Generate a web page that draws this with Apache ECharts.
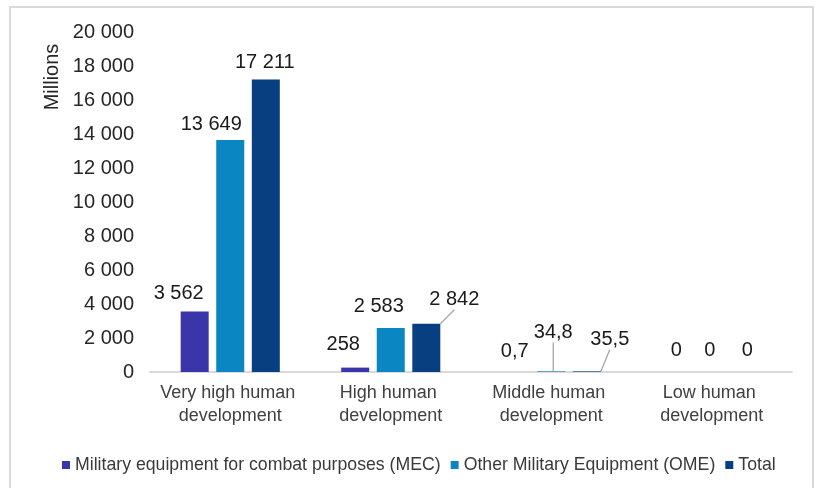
<!DOCTYPE html>
<html>
<head>
<meta charset="utf-8">
<script src="https://cdn.jsdelivr.net/npm/echarts@6/dist/echarts.min.js"></script>
<style>
html,body{margin:0;padding:0;background:#fff;}
#chart{width:817px;height:488px;}
</style>
</head>
<body>
<div id="chart"></div>
<script>
// ---- data ----
const categories = ["Very high human development", "High human development", "Middle human development", "Low human development"];
const seriesNames = ["Military equipment for combat purposes (MEC)", "Other Military Equipment (OME)", "Total"];
const mecValues = [3562, 258, 0.7, 0];
const omeValues = [13649, 2583, 34.8, 0];
const totalValues = [17211, 2842, 35.5, 0];
const yTicks = [0, 2000, 4000, 6000, 8000, 10000, 12000, 14000, 16000, 18000, 20000];

// ---- layout / style (not data) ----
const colors = ["#3A35A8", "#0A86C2", "#073F80"];
const labelShift = [
  [[-16, -3], [-12, -8], [-1, -6], [0, -7]],
  [[-19, 0], [-12, -7], [2, -24], [-2, -7]],
  [[-1, -2], [28, -9], [23, -17], [0, -7]]
];
const guideLines = [[false, false, false, false], [false, false, true, false], [false, true, true, false]];

function fmt(v) {
  if (Number.isInteger(v)) {
    return String(v).replace(/\B(?=(\d{3})+(?!\d))/g, ' ');
  }
  return String(v).replace('.', ',');
}

const allValues = [mecValues, omeValues, totalValues];
const chart = echarts.init(document.getElementById('chart'), null, {renderer: 'canvas'});
const FONT = 'Liberation Sans, Arial, sans-serif';

const series = allValues.map((vals, si) => ({
  name: seriesNames[si],
  type: 'bar',
  barWidth: 28,
  barGap: '27%',
  itemStyle: {color: colors[si]},
  data: vals.map((v, i) => ({
    value: v,
    labelLine: {show: guideLines[si][i]}
  })),
  label: {
    show: true,
    position: 'top',
    distance: 5,
    fontFamily: FONT,
    fontSize: 20,
    color: '#1a1a1a',
    formatter: p => fmt(p.value)
  },
  labelLine: {
    show: false,
    lineStyle: {color: '#a6a6a6', width: 1.3},
    length2: 0
  },
  labelLayout: p => ({dx: labelShift[si][p.dataIndex][0], dy: labelShift[si][p.dataIndex][1]}),
  animation: false
}));

chart.setOption({
  animation: false,
  color: colors,
  grid: {left: 150, right: 25, top: 32, bottom: 116, containLabel: false},
  legend: {
    data: seriesNames,
    top: 451,
    left: 57,
    icon: 'rect',
    itemWidth: 8,
    itemHeight: 8,
    itemGap: 10,
    textStyle: {fontFamily: FONT, fontSize: 17.7, color: '#3a3a3a'}
  },
  xAxis: {
    type: 'category',
    data: categories,
    axisLine: {lineStyle: {color: '#d9d9d9', width: 2}},
    axisTick: {show: false},
    axisLabel: {
      interval: 0,
      margin: 10,
      fontFamily: FONT,
      fontSize: 18,
      lineHeight: 23,
      color: '#404040',
      width: 158,
      overflow: 'break'
    }
  },
  yAxis: {
    type: 'value',
    min: yTicks[0],
    max: yTicks[yTicks.length - 1],
    interval: yTicks[1] - yTicks[0],
    axisLine: {show: false},
    axisTick: {show: false},
    splitLine: {show: false},
    axisLabel: {
      margin: 16,
      fontFamily: FONT,
      fontSize: 20,
      color: '#262626',
      formatter: v => fmt(v)
    }
  },
  graphic: [
    {
      type: 'rect',
      shape: {x: 10, y: 7, width: 803, height: 520},
      style: {fill: 'none', stroke: '#d9d9d9', lineWidth: 2},
      silent: true,
      z: -1
    },
    {
      type: 'text',
      x: 52,
      y: 77,
      rotation: Math.PI / 2,
      style: {
        text: 'Millions',
        fontFamily: FONT,
        fontSize: 20,
        fill: '#262626',
        align: 'center',
        verticalAlign: 'middle'
      }
    }
  ],
  series: series
});
</script>
</body>
</html>
